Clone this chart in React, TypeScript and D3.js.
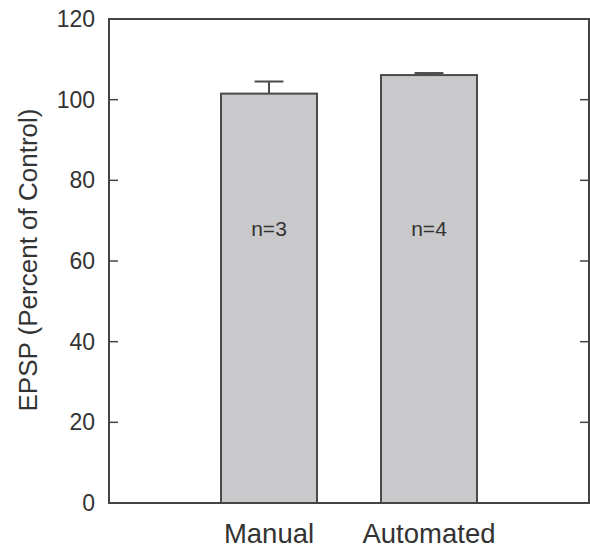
import React from "react";
import * as d3 from "d3";

// data
const groups = ["Manual", "Automated"];
const means = [101.5, 106.1];
const errors = [3.0, 0.5];
const nLabels = ["n=3", "n=4"];
const yTicks = [0, 20, 40, 60, 80, 100, 120];

const width = 590;
const height = 548;
const margin = { top: 19, right: 1, bottom: 45, left: 109 };
const iwidth = width - margin.left - margin.right;
const iheight = height - margin.top - margin.bottom;

const font = "Liberation Sans, Arial, Helvetica, sans-serif";
const ink = "#444";

export default function App() {
  const x = d3.scalePoint<string>().domain(groups).range([0, iwidth]).padding(1);
  const y = d3.scaleLinear().domain([0, 120]).range([iheight, 0]);
  const barW = x.step() * 0.6;
  const capW = barW * 0.3;

  return (
    <svg
      width={width}
      height={height}
      style={{ position: "absolute", left: 0, top: 0, background: "#fff" }}
      fontFamily={font}
    >
      <g transform={`translate(${margin.left},${margin.top})`}>
        {/* bars */}
        {groups.map((g, i) => (
          <rect
            key={g}
            x={x(g)! - barW / 2}
            y={y(means[i])}
            width={barW}
            height={iheight - y(means[i])}
            fill="#c9c9cb"
            stroke="#4a4a4a"
            strokeWidth={2}
          />
        ))}
        {/* error bars (upper only) */}
        {groups.map((g, i) => (
          <g key={g + "-err"} stroke="#4a4a4a" strokeWidth={2}>
            <line x1={x(g)} x2={x(g)} y1={y(means[i])} y2={y(means[i] + errors[i])} />
            <line
              x1={x(g)! - capW / 2}
              x2={x(g)! + capW / 2}
              y1={y(means[i] + errors[i])}
              y2={y(means[i] + errors[i])}
            />
          </g>
        ))}
        {/* n labels */}
        {groups.map((g, i) => (
          <text
            key={g + "-n"}
            x={x(g)}
            y={y(68)}
            dy="0.35em"
            textAnchor="middle"
            fontSize={21}
            fill="#333"
          >
            {nLabels[i]}
          </text>
        ))}
        {/* frame */}
        <rect x={0} y={0} width={iwidth} height={iheight} fill="none" stroke={ink} strokeWidth={2} />
        {/* ticks inward on both sides */}
        {yTicks.filter(t => t > 0 && t < 120).map(t => (
          <g key={t} stroke={ink} strokeWidth={1.5}>
            <line x1={0} x2={9} y1={y(t)} y2={y(t)} />
            <line x1={iwidth - 9} x2={iwidth} y1={y(t)} y2={y(t)} />
          </g>
        ))}
        {yTicks.map(t => (
          <text
            key={"l" + t}
            x={-14}
            y={y(t)}
            dy="0.35em"
            textAnchor="end"
            fontSize={23}
            fill="#333"
          >
            {t}
          </text>
        ))}
        {groups.map(g => (
          <text key={g + "-x"} x={x(g)} y={iheight + 40} textAnchor="middle" fontSize={27.5} fill="#333">
            {g}
          </text>
        ))}
        <text
          transform={`translate(${-72},${iheight / 2 - 1}) rotate(-90)`}
          textAnchor="middle"
          fontSize={26}
          fill="#333"
        >
          EPSP (Percent of Control)
        </text>
      </g>
    </svg>
  );
}
